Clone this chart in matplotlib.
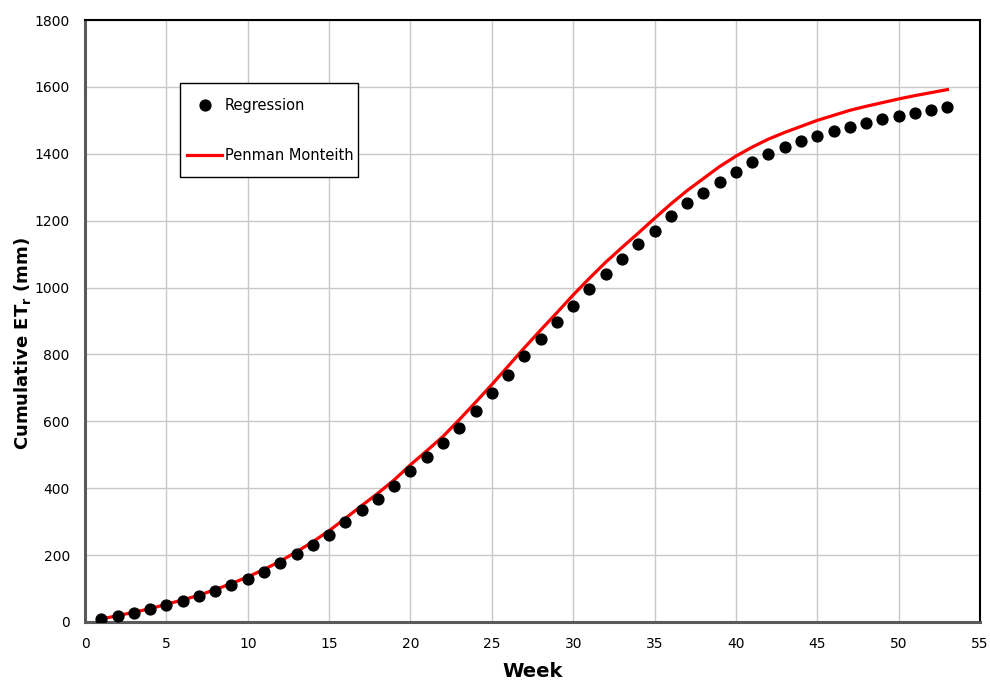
import numpy as np
import matplotlib
matplotlib.use("Agg")
import matplotlib.pyplot as plt
from matplotlib.patches import Rectangle

# Weekly cumulative reference ET (mm)
weeks = list(range(1, 54))
regression = [10, 18, 28, 39, 51, 63, 77, 92, 110, 129, 149, 175, 202, 229, 261, 298,
              336, 369, 407, 451, 493, 535, 581, 632, 685, 740, 794, 845, 897, 945,
              995, 1041, 1085, 1129, 1170, 1215, 1252, 1284, 1316, 1347, 1375, 1398,
              1420, 1437, 1454, 1469, 1481, 1493, 1503, 1513, 1521, 1530, 1540]
penman = [9, 19, 29, 40, 53, 66, 80, 97, 115, 135, 157, 182, 210, 240, 273, 310,
          348, 385, 425, 470, 512, 555, 605, 657, 710, 765, 820, 873, 925, 978,
          1028, 1076, 1120, 1163, 1207, 1250, 1290, 1326, 1362, 1393, 1420, 1444,
          1464, 1482, 1500, 1515, 1530, 1542, 1553, 1564, 1574, 1583, 1592]

fig = plt.figure(figsize=(9.9, 6.86), dpi=100)
ax = fig.add_axes([0.0859, 0.0933, 0.9040, 0.8775])

ax.plot(weeks, regression, "o", color="black", markersize=7.8, label="Regression", zorder=3)
ax.plot(weeks, penman, "-", color="#ff0000", linewidth=2.3, label="Penman Monteith", zorder=2)

ax.set_xlim(0, 55)
ax.set_ylim(0, 1800)
ax.set_xticks(np.arange(0, 56, 5))
ax.set_yticks(np.arange(0, 1801, 200))
ax.grid(True, color="#c8c8c8", linewidth=1)
ax.set_axisbelow(True)
for side in ["left", "bottom"]:
    ax.spines[side].set_linewidth(2.2)
    ax.spines[side].set_color("#5a5a5a")
for side in ["top", "right"]:
    ax.spines[side].set_linewidth(1.5)
    ax.spines[side].set_color("black")
ax.tick_params(length=0, labelsize=10, pad=11)

ax.set_xlabel("Week", fontsize=14, fontweight="bold", labelpad=8)
ax.set_ylabel("Cumulative ET$_\\mathregular{r}$ (mm)", fontsize=13, fontweight="bold")
ax.yaxis.set_label_coords(-0.058, 0.463)

# legend box drawn separately (Excel-like padding)
ax.add_patch(Rectangle((0.1061, 0.739), 0.199, 0.156, transform=ax.transAxes,
                       facecolor="white", edgecolor="black", linewidth=1, zorder=4))
leg = ax.legend(loc="center left", bbox_to_anchor=(0.114, 0.8165), fontsize=10.5,
                frameon=False, labelspacing=2.4, handlelength=2.4,
                handletextpad=0.2, borderpad=0, borderaxespad=0)
leg.set_zorder(5)

fig.savefig("out.png", dpi=100)
